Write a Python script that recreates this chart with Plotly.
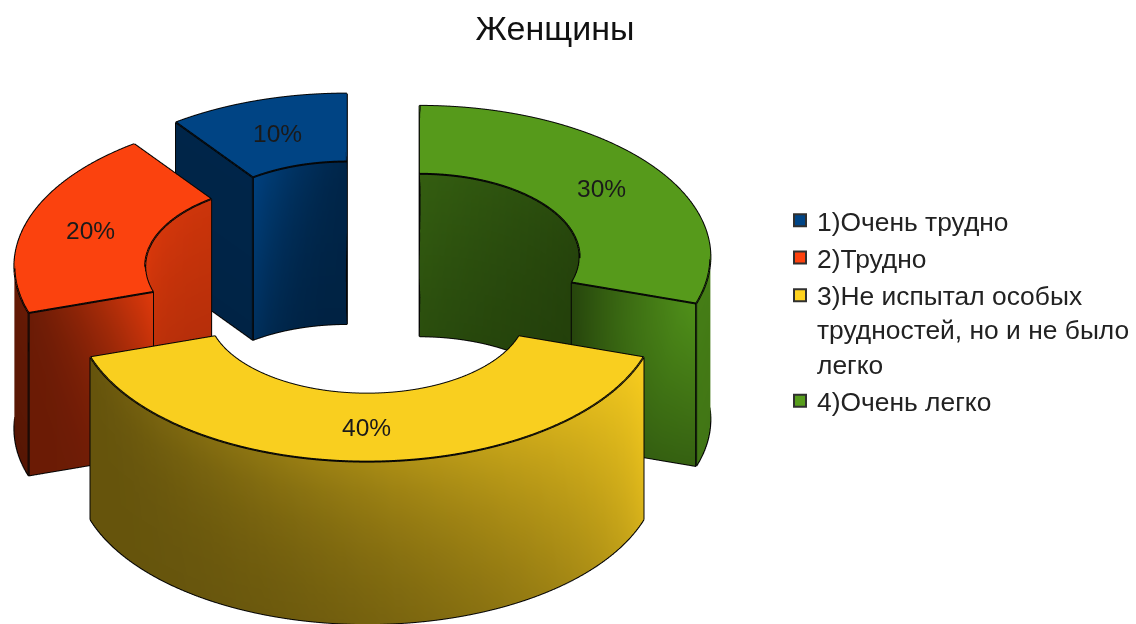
import numpy as np
import plotly.graph_objects as go

title = "Женщины"
categories = ["1)Очень трудно", "2)Трудно",
              "3)Не испытал особых<br>трудностей, но и не было<br>легко", "4)Очень легко"]
values = [10, 20, 40, 30]
colors = ["#004586", "#ff420e", "#ffd320", "#579d1c"]
top_colors = ["#004484", "#fb420e", "#f9cf1f", "#569a1b"]

R, r, H, D = 1.0, 0.55, 0.654, 0.224
ELEV = np.radians(31.3)
EYE = 1.5
ASPECT = 3.06
# wall shading: (start-top, end-top, start-bottom, end-bottom) brightness
shade_outer = [(.5,.5,.4,.4), (.4,.4,.34,.34), (.4,.98,.4,.85), (.8,.88,.75,.85)]
shade_inner = [(.55,.95,.5,.7), (.8,.9,.7,.8), (.6,.6,.5,.5), (.4,.6,.4,.5)]
shade_start = [(.5,.5,.4,.4), (.4,.8,.3,.6), (.5,.5,.4,.4), (.92,.45,.62,.42)]
shade_end   = [(.55,.55,.52,.52), (.42,.88,.42,.6), (.5,.5,.4,.4), (.5,.5,.5,.5)]

def rgb(h, f=1.0):
    c = [int(h[i:i+2], 16) for i in (1, 3, 5)]
    return "rgb(%d,%d,%d)" % tuple(min(255, int(v*f)) for v in c)

fig = go.Figure()

def quad_mesh(X, Y, Z, C):
    nu, nv = X.shape
    idx = np.arange(nu*nv).reshape(nu, nv)
    a, b, c2, d = idx[:-1,:-1].ravel(), idx[1:,:-1].ravel(), idx[1:,1:].ravel(), idx[:-1,1:].ravel()
    fig.add_trace(go.Mesh3d(
        x=X.ravel(), y=Y.ravel(), z=Z.ravel(),
        i=np.r_[a, a], j=np.r_[b, c2], k=np.r_[c2, d],
        vertexcolor=C.ravel(), flatshading=True, hoverinfo="skip", showlegend=False,
        lighting=dict(ambient=1, diffuse=0, specular=0, roughness=1, fresnel=0),
    ))

def outline(xs, ys, zs):
    fig.add_trace(go.Scatter3d(x=xs, y=ys, z=zs, mode="lines", hoverinfo="skip", showlegend=False,
                               line=dict(color="#050505", width=4)))

def shaded(col, s, nu, nv):
    u = np.linspace(0, 1, nu)[:, None]; v = np.linspace(0, 1, nv)[None, :]
    u = u**(1.2+1.6*v)
    f = (1-v)*((1-u)*s[0]+u*s[1]) + v*((1-u)*s[2]+u*s[3])
    return np.vectorize(lambda x: rgb(col, x), otypes=[object])(f)

annotations = []
total = sum(values)
start = 90.0
for n, (val, col) in enumerate(zip(values, colors)):
    sweep = 360.0*val/total
    a0, a1 = np.radians(start), np.radians(start+sweep)
    mid = (a0+a1)/2
    ox, oy = D*np.cos(mid), D*np.sin(mid)
    t = np.linspace(a0, a1, max(8, int(sweep)))
    nt = len(t)
    rad = np.linspace(r, R, 2)
    T, RR = np.meshgrid(t, rad, indexing="ij")
    quad_mesh(ox+RR*np.cos(T), oy+RR*np.sin(T), np.full(T.shape, H),
              shaded(top_colors[n], (1,1,1,1), nt, 2))
    zz = np.linspace(H, 0, 6)
    T, ZZ = np.meshgrid(t, zz, indexing="ij")
    quad_mesh(ox+R*np.cos(T), oy+R*np.sin(T), ZZ, shaded(col, shade_outer[n], nt, 6))
    quad_mesh(ox+r*np.cos(T), oy+r*np.sin(T), ZZ, shaded(col, shade_inner[n], nt, 6))
    for a, s in ((a0, shade_start[n]), (a1, shade_end[n])):
        RA, ZZ = np.meshgrid(np.linspace(R, r, 12), zz, indexing="ij")
        quad_mesh(ox+RA*np.cos(a), oy+RA*np.sin(a), ZZ, shaded(col, s, 12, 6))
    cx, sx = np.cos(t), np.sin(t)
    loop_x = np.r_[R*cx, r*cx[::-1], R*cx[0]]+ox
    loop_y = np.r_[R*sx, r*sx[::-1], R*sx[0]]+oy
    outline(loop_x, loop_y, np.full(loop_x.shape, H))
    outline(loop_x, loop_y, np.full(loop_x.shape, 0.0))
    for a in (a0, a1):
        for q in (R, r):
            outline([ox+q*np.cos(a)]*2, [oy+q*np.sin(a)]*2, [0, H])
    lr = (R+r)/2
    annotations.append(dict(x=ox+lr*np.cos(mid), y=oy+lr*np.sin(mid), z=H, text="%d%%" % val,
                            showarrow=False, xanchor="center", yanchor="middle",
                            font=dict(family="Liberation Sans", size=24.5, color="#1a1a1a")))
    fig.add_trace(go.Scatter(x=[None], y=[None], mode="markers", name=categories[n],
                             marker=dict(symbol="square", size=15, color=col,
                                         line=dict(color="#303030", width=1))))
    start += sweep

lim = 1.4
fig.update_layout(
    width=1136, height=624, autosize=False, paper_bgcolor="white", plot_bgcolor="white",
    margin=dict(l=0, r=0, t=0, b=0),
    xaxis=dict(visible=False), yaxis=dict(visible=False),
    scene=dict(
        domain=dict(x=[0, 734/1136], y=[0, 532/624]),
        xaxis=dict(visible=False, range=[-lim, lim]),
        yaxis=dict(visible=False, range=[-lim, lim]),
        zaxis=dict(visible=False, range=[H/2-lim, H/2+lim]),
        aspectmode="manual", aspectratio=dict(x=ASPECT, y=ASPECT, z=ASPECT),
        annotations=annotations,
        camera=dict(eye=dict(x=0, y=-EYE*np.cos(ELEV), z=EYE*np.sin(ELEV)),
                    center=dict(x=0, y=0, z=0), up=dict(x=0, y=0, z=1),
                    projection=dict(type="orthographic")),
    ),
    title=dict(text=title, x=0.4885, xanchor="center", y=0.955, yanchor="middle",
               font=dict(family="Liberation Sans", size=34, color="#111")),
    legend=dict(x=0.684, y=0.685, xanchor="left", yanchor="top", bgcolor="rgba(0,0,0,0)",
                font=dict(family="Liberation Sans", size=26.4, color="#222"), itemsizing="constant",
                traceorder="normal"),
)
post = """
document.body.style.margin='0';
function fixLegend(){
  var pts=document.querySelectorAll('.legend .traces .legendpoints');
  pts.forEach(function(p,i){p.setAttribute('transform', i==2 ? 'translate(3,-34)' : 'translate(3,0)');});
}
[50,200,600,1500,3000].forEach(function(t){setTimeout(fixLegend,t);});
"""
fig.write_html("out.html", config=dict(displayModeBar=False), post_script=post)
